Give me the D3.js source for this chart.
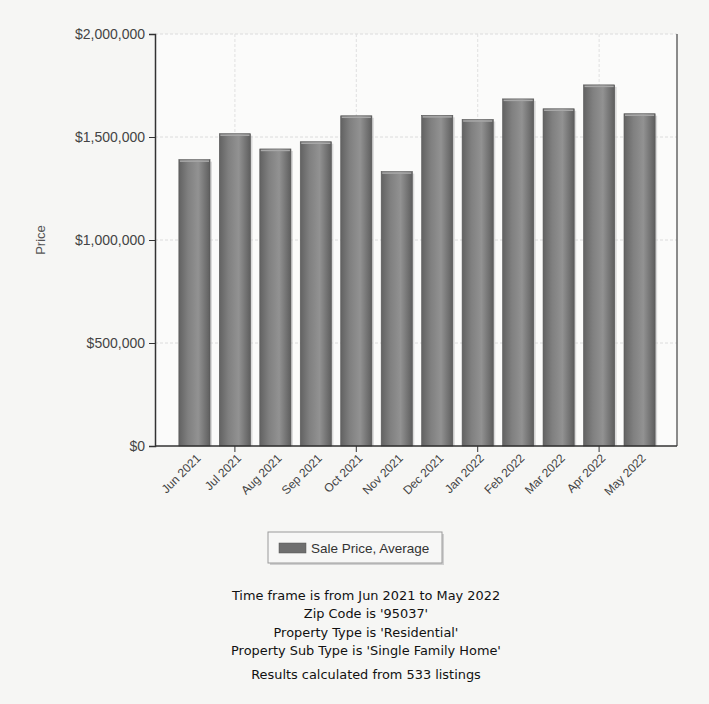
<!DOCTYPE html>
<html lang="en">
<head>
  <meta charset="utf-8">
  <title>Sale Price, Average</title>
  <script src="https://cdn.jsdelivr.net/npm/d3@7"></script>
  <style>
    body { margin: 0; background: #f6f6f4; }
    svg { display: block; }
    .axis text { font-family: Arial, "Liberation Sans", sans-serif; fill: #444; }
    .note { font-family: Verdana, "DejaVu Sans", sans-serif; font-size: 12.9px; fill: #111; }
  </style>
</head>
<body>
  <script>
    // data
    var months = ["Jun 2021", "Jul 2021", "Aug 2021", "Sep 2021", "Oct 2021", "Nov 2021",
      "Dec 2021", "Jan 2022", "Feb 2022", "Mar 2022", "Apr 2022", "May 2022"];
    var prices = [1390000, 1516000, 1442000, 1477000, 1603000, 1332000,
      1605000, 1585000, 1685000, 1637000, 1753000, 1613000];
    var yTicks = [0, 500000, 1000000, 1500000, 2000000];
    var xTickMonths = ["Jul 2021", "Oct 2021", "Jan 2022", "Apr 2022"];
    var notes = ["Time frame is from Jun 2021 to May 2022", "Zip Code is '95037'",
      "Property Type is 'Residential'", "Property Sub Type is 'Single Family Home'"];
    var countNote = "Results calculated from 533 listings";

    var W = 709, H = 704;
    var plot = { left: 155, right: 677, top: 34, bottom: 446 };

    var svg = d3.select("body").append("svg")
      .attr("width", W)
      .attr("height", H);

    var defs = svg.append("defs");
    var grad = defs.append("linearGradient")
      .attr("id", "cyl")
      .attr("x1", "0").attr("x2", "1").attr("y1", "0").attr("y2", "0");
    grad.append("stop").attr("offset", "0%").attr("stop-color", "#626262");
    grad.append("stop").attr("offset", "30%").attr("stop-color", "#808080");
    grad.append("stop").attr("offset", "62%").attr("stop-color", "#929292");
    grad.append("stop").attr("offset", "100%").attr("stop-color", "#5e5e5e");

    var x = d3.scaleBand()
      .domain(months)
      .range([174, 660])
      .paddingInner(0.23)
      .paddingOuter(0.12);

    var y = d3.scaleLinear()
      .domain([0, 2000000])
      .range([plot.bottom, plot.top]);

    // plot background
    svg.append("rect")
      .attr("x", plot.left).attr("y", plot.top)
      .attr("width", plot.right - plot.left)
      .attr("height", plot.bottom - plot.top)
      .attr("fill", "#fbfbfa");

    // grid
    svg.append("g")
      .selectAll("line")
      .data(yTicks.slice(1))
      .enter().append("line")
      .attr("x1", plot.left).attr("x2", plot.right)
      .attr("y1", function(d) { return y(d); })
      .attr("y2", function(d) { return y(d); })
      .attr("stroke", "#dcdcdc")
      .attr("stroke-dasharray", "3,2");

    svg.append("g")
      .selectAll("line")
      .data(xTickMonths)
      .enter().append("line")
      .attr("x1", function(d) { return x(d) + x.bandwidth() / 2; })
      .attr("x2", function(d) { return x(d) + x.bandwidth() / 2; })
      .attr("y1", plot.top).attr("y2", plot.bottom)
      .attr("stroke", "#e0e0e0")
      .attr("stroke-dasharray", "3,2");

    // bars
    var bars = svg.append("g")
      .selectAll("g")
      .data(prices)
      .enter().append("g");

    bars.append("rect")
      .attr("x", function(d, i) { return x(months[i]) + 2; })
      .attr("y", function(d) { return y(d) + 2; })
      .attr("width", x.bandwidth())
      .attr("height", function(d) { return plot.bottom - y(d) - 2; })
      .attr("fill", "#c4c4c4")
      .attr("opacity", 0.6);

    bars.append("rect")
      .attr("x", function(d, i) { return x(months[i]); })
      .attr("y", function(d) { return y(d); })
      .attr("width", x.bandwidth())
      .attr("height", function(d) { return plot.bottom - y(d); })
      .attr("fill", "url(#cyl)")
      .attr("stroke", "#555")
      .attr("stroke-width", 0.6);

    bars.append("line")
      .attr("x1", function(d, i) { return x(months[i]) + 1; })
      .attr("x2", function(d, i) { return x(months[i]) + x.bandwidth() - 1; })
      .attr("y1", function(d) { return y(d) + 1.5; })
      .attr("y2", function(d) { return y(d) + 1.5; })
      .attr("stroke", "#a8a8a8")
      .attr("stroke-width", 1.5);

    // right border
    svg.append("line")
      .attr("x1", plot.right).attr("x2", plot.right)
      .attr("y1", plot.top).attr("y2", plot.bottom)
      .attr("stroke", "#666")
      .attr("stroke-width", 1.5);

    // axes
    var yAxis = svg.append("g")
      .attr("class", "axis")
      .attr("transform", "translate(" + plot.left + ",0)")
      .call(d3.axisLeft(y)
        .tickValues(yTicks)
        .tickSize(6)
        .tickFormat(function(d) { return "$" + d3.format(",")(d); }));
    yAxis.selectAll("text").attr("font-size", 14).attr("dx", "-1");
    yAxis.select(".domain").attr("stroke", "#333").attr("stroke-width", 1.5);
    yAxis.selectAll(".tick line").attr("stroke", "#333");

    var xAxis = svg.append("g")
      .attr("class", "axis")
      .attr("transform", "translate(0," + plot.bottom + ")")
      .call(d3.axisBottom(x).tickSize(0).tickSizeOuter(0));
    xAxis.select(".domain")
      .attr("d", "M" + plot.left + ",0H" + plot.right)
      .attr("stroke", "#333").attr("stroke-width", 1.5);
    xAxis.selectAll(".tick text")
      .attr("font-size", 12)
      .attr("text-anchor", "end")
      .attr("dy", null)
      .attr("y", 0)
      .attr("transform", "translate(7,13) rotate(-45)");
    xAxis.selectAll(".tick")
      .filter(function(d) { return xTickMonths.indexOf(d) >= 0; })
      .append("line")
      .attr("y2", 6)
      .attr("stroke", "#333");

    svg.append("text")
      .attr("class", "axis")
      .attr("transform", "translate(45,240) rotate(-90)")
      .attr("text-anchor", "middle")
      .attr("font-family", "Arial, 'Liberation Sans', sans-serif")
      .attr("font-size", 13)
      .attr("fill", "#555")
      .text("Price");

    // legend
    var legend = svg.append("g").attr("transform", "translate(268,532)");
    legend.append("rect")
      .attr("x", 2).attr("y", 2).attr("width", 174).attr("height", 31)
      .attr("fill", "#cfcfcf");
    legend.append("rect")
      .attr("width", 174).attr("height", 31)
      .attr("fill", "#f7f7f6")
      .attr("stroke", "#9a9a9a");
    legend.append("rect")
      .attr("x", 11).attr("y", 11).attr("width", 27).attr("height", 10)
      .attr("fill", "#6f6f6f")
      .attr("stroke", "#555").attr("stroke-width", 0.5);
    legend.append("text")
      .attr("x", 43).attr("y", 20.5)
      .attr("font-family", "Arial, 'Liberation Sans', sans-serif")
      .attr("font-size", 13.5)
      .attr("fill", "#333")
      .text("Sale Price, Average");

    // footer notes
    svg.append("g")
      .selectAll("text")
      .data(notes)
      .enter().append("text")
      .attr("class", "note")
      .attr("x", 366)
      .attr("y", function(d, i) { return 600 + i * 18.3; })
      .attr("text-anchor", "middle")
      .text(function(d) { return d; });

    svg.append("text")
      .attr("class", "note")
      .attr("x", 366)
      .attr("y", 679)
      .attr("text-anchor", "middle")
      .text(countNote);
  </script>
</body>
</html>
